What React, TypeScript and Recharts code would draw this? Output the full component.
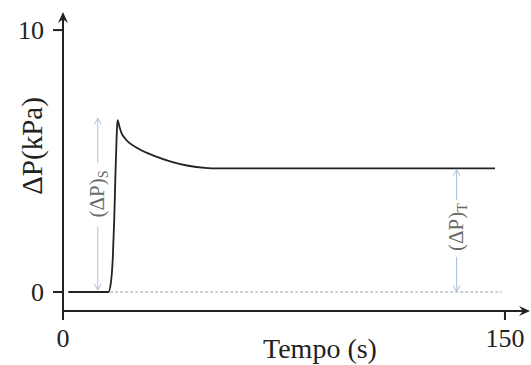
import { Line, LineChart, ReferenceDot, ReferenceLine, XAxis, YAxis } from "recharts";

// readings from the reference trace
const time = [1.8, 15.4, 16.3, 16.9, 17.4, 17.8, 18.2, 18.5, 19.3, 19.9, 21.0, 25.5, 31.2, 36.9, 42.5, 48.2, 52.6, 146.6];
const pressure = [0, 0, 0.4, 1.3, 2.8, 4.5, 5.9, 6.56, 6.25, 6.06, 5.87, 5.48, 5.19, 4.97, 4.82, 4.74, 4.72, 4.72];

const xTicks = [0, 150];
const yTicks = [0, 10];
const xDomain = [0, 158.5];
const yDomain = [-0.725, 10.69];

// annotation arrows: [time, from, to] with the tip at "to"
const sArrows = [
  [11.8, 4.92, 6.63],
  [11.8, 2.48, 0.08],
];
const tArrows = [
  [133.6, 3.51, 4.66],
  [133.6, 1.34, 0.02],
];
const labels = [
  { t: 11.8, v: 3.74, sub: "S" },
  { t: 133.6, v: 2.48, sub: "T" },
];

const data = time.map((t, i) => ({ t, p: pressure[i] }));

const FONT = '"Liberation Serif", "Times New Roman", serif';
const INK = "#222";
const NOTE = "#a9bfd3";

function AxisArrow(props: any) {
  const { x1, y1, x2, y2 } = props;
  const len = Math.hypot(x2 - x1, y2 - y1) || 1;
  const dx = (x2 - x1) / len;
  const dy = (y2 - y1) / len;
  const nx = -dy;
  const ny = dx;
  const L = 11;
  const W = 5;
  const head = [
    `M${x2},${y2}`,
    `L${x2 - L * dx + W * nx},${y2 - L * dy + W * ny}`,
    `L${x2 - 0.65 * L * dx},${y2 - 0.65 * L * dy}`,
    `L${x2 - L * dx - W * nx},${y2 - L * dy - W * ny}`,
    "Z",
  ].join(" ");
  return (
    <g>
      <line x1={x1} y1={y1} x2={x2 - 4 * dx} y2={y2 - 4 * dy} stroke={INK} strokeWidth={2} />
      <path d={head} fill={INK} />
    </g>
  );
}

function NoteArrow(props: any) {
  const { x1, y1, x2, y2 } = props;
  const dir = y2 > y1 ? 1 : -1;
  return (
    <g stroke={NOTE} strokeWidth={1} fill="none">
      <line x1={x1} y1={y1} x2={x2} y2={y2} />
      <polyline points={`${x2 - 3.5},${y2 - dir * 6} ${x2},${y2} ${x2 + 3.5},${y2 - dir * 6}`} />
    </g>
  );
}

function NoteLabel(sub: string) {
  return (props: any) => {
    const { cx, cy } = props;
    return (
      <text
        x={cx}
        y={cy}
        transform={`rotate(-90 ${cx} ${cy})`}
        textAnchor="middle"
        dy={6}
        style={{ fontFamily: FONT }}
        fontSize={21}
        fill="#6a6a6a"
      >
        (ΔP)
        <tspan fontSize={14} dy={4}>
          {sub}
        </tspan>
      </text>
    );
  };
}

export default function App() {
  return (
    <div style={{ width: 531, height: 365, fontFamily: FONT }}>
      <style>{`body{margin:0}`}</style>
      <LineChart width={531} height={365} data={data} margin={{ top: 12, right: 1, bottom: 0, left: 0 }}>
        <XAxis
          dataKey="t"
          type="number"
          domain={xDomain}
          ticks={xTicks}
          allowDataOverflow
          height={54}
          axisLine={false}
          tickLine={{ stroke: INK, strokeWidth: 2 }}
          tickSize={9}
          tickMargin={9}
          tick={{ fill: INK, fontSize: 26, style: { fontFamily: FONT } }}
          label={{
            content: ({ viewBox }: any) => (
              <text x={viewBox.x + 257} y={viewBox.y + 47} textAnchor="middle" style={{ fontFamily: FONT }} fontSize={28} fill={INK}>
                Tempo (s)
              </text>
            ),
          }}
        />
        <YAxis
          type="number"
          domain={yDomain}
          ticks={yTicks}
          allowDataOverflow
          width={63}
          axisLine={false}
          tickLine={{ stroke: INK, strokeWidth: 2 }}
          tickSize={10}
          tickMargin={9}
          tick={{ fill: INK, fontSize: 26, style: { fontFamily: FONT } }}
          label={{
            content: ({ viewBox }: any) => {
              const x = viewBox.x + 33;
              const y = viewBox.y + 134;
              return (
                <text x={x} y={y} transform={`rotate(-90 ${x} ${y})`} textAnchor="middle" dy={9} style={{ fontFamily: FONT }} fontSize={29} fill={INK}>
                  ΔP(kPa)
                </text>
              );
            },
          }}
        />
        <ReferenceLine
          segment={[{ x: 16, y: 0 }, { x: 148.9, y: 0 }]}
          stroke="#9aa3ad"
          strokeWidth={1}
          strokeDasharray="3 2"
          ifOverflow="visible"
        />
        {[...sArrows, ...tArrows].map(([t, a, b], i) => (
          <ReferenceLine key={`n${i}`} segment={[{ x: t, y: a }, { x: t, y: b }]} shape={NoteArrow} ifOverflow="visible" />
        ))}
        {labels.map((l) => (
          <ReferenceDot key={l.sub} x={l.t} y={l.v} r={0} shape={NoteLabel(l.sub)} ifOverflow="visible" />
        ))}
        <ReferenceLine segment={[{ x: 0, y: yDomain[0] }, { x: xDomain[1], y: yDomain[0] }]} shape={AxisArrow} ifOverflow="visible" />
        <ReferenceLine segment={[{ x: 0, y: yDomain[0] }, { x: 0, y: yDomain[1] }]} shape={AxisArrow} ifOverflow="visible" />
        <Line
          type="monotone"
          dataKey="p"
          stroke={INK}
          strokeWidth={1.8}
          dot={false}
          isAnimationActive={false}
        />
      </LineChart>
    </div>
  );
}
